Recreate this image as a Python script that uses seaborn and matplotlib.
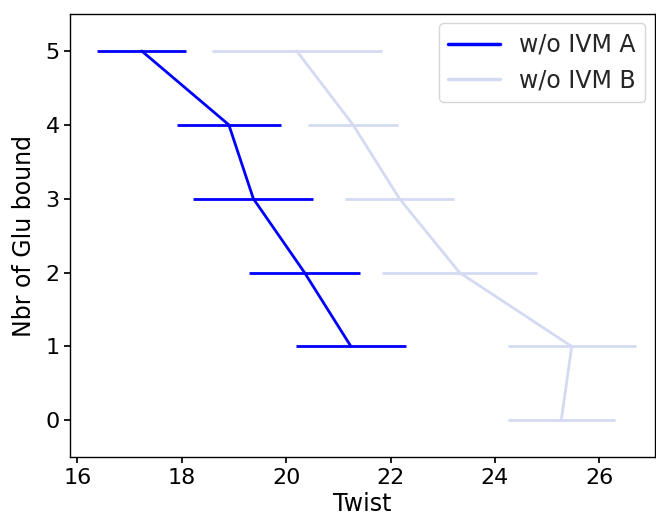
import matplotlib
matplotlib.use("Agg")
import matplotlib.pyplot as plt
import pandas as pd
import seaborn as sns

# number of Glu bound
glu_a = [5, 4, 3, 2, 1]
glu_b = [5, 4, 3, 2, 1, 0]

# twist mean and spread
twist_a = [17.23, 18.90, 19.37, 20.35, 21.24]
err_a = [0.85, 0.99, 1.15, 1.06, 1.05]
twist_b = [20.20, 21.28, 22.17, 23.32, 25.47, 25.27]
err_b = [1.63, 0.87, 1.04, 1.49, 1.23, 1.03]

labels = ["w/o IVM A", "w/o IVM B"]
colors = ["#0000ff", "#d4daf2"]

df = pd.concat([
    pd.DataFrame({"twist": twist_a, "glu": glu_a, "err": err_a, "set": labels[0]}),
    pd.DataFrame({"twist": twist_b, "glu": glu_b, "err": err_b, "set": labels[1]}),
])

sns.set_theme(style="ticks")
plt.rcParams["font.family"] = ["DejaVu Sans"]

fig = plt.figure(figsize=(6.56, 5.19), dpi=100)
ax = fig.add_axes([0.107, 0.119, 0.891, 0.854])

sns.lineplot(data=df, x="twist", y="glu", hue="set", palette=colors, sort=False,
             orient="y", linewidth=2, ax=ax, estimator=None)
for lab, col in zip(labels, colors):
    sub = df[df["set"] == lab]
    ax.errorbar(sub["twist"], sub["glu"], xerr=sub["err"], fmt="none", ecolor=col,
                elinewidth=2, capsize=0)

ax.set_xlim(15.86, 27.06)
ax.set_ylim(-0.5, 5.5)
ax.set_xticks([16, 18, 20, 22, 24, 26])
ax.set_yticks([0, 1, 2, 3, 4, 5])
ax.tick_params(labelsize=16, colors="black", length=4)
ax.set_xlabel("Twist", fontsize=17, color="black", labelpad=3)
ax.set_ylabel("Nbr of Glu bound", fontsize=17, color="black", labelpad=7)
for s in ax.spines.values():
    s.set_color("black")
    s.set_linewidth(1)
leg = ax.legend(fontsize=17, loc="upper right", frameon=True, handlelength=2.2,
                borderaxespad=0.4)
for line in leg.get_lines():
    line.set_linewidth(2.5)

plt.savefig("out.png", dpi=100)
plt.close()
